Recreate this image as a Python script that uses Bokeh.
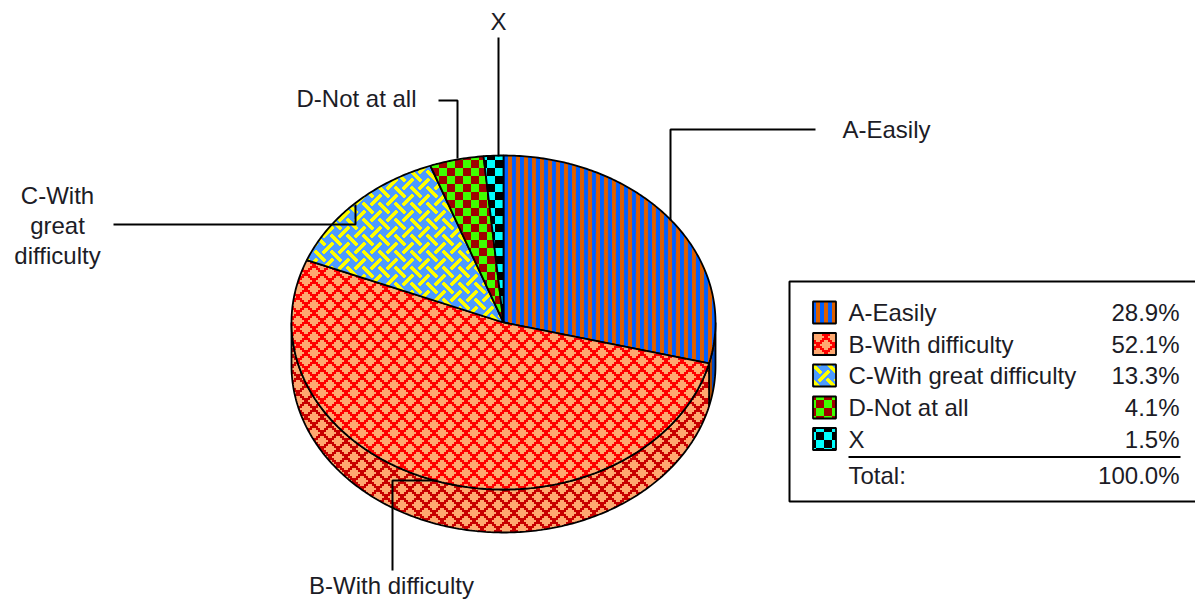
import base64, struct, zlib
import numpy as np
from bokeh.embed import file_html
from bokeh.resources import INLINE
from bokeh.plotting import figure
from bokeh.models import ImageURLTexture
from bokeh.core.properties import value

categories = ["A-Easily", "B-With difficulty", "C-With great difficulty", "D-Not at all", "X"]
percents = [28.9, 52.1, 13.3, 4.1, 1.5]
percent_labels = ["28.9%", "52.1%", "13.3%", "4.1%", "1.5%"]
total_label = "100.0%"
callout_lines = [["A-Easily"], ["B-With difficulty"], ["C-With", "great", "difficulty"], ["D-Not at all"], ["X"]]

FONT = value("Liberation Sans")
TEXT = "#1c1c26"


def png_uri(rgb):
    h, w, _ = rgb.shape
    raw = b"".join(b"\x00" + rgb[r].astype(np.uint8).tobytes() for r in range(h))

    def chunk(t, d):
        c = t + d
        return struct.pack(">I", len(d)) + c + struct.pack(">I", zlib.crc32(c) & 0xffffffff)

    data = b"\x89PNG\r\n\x1a\n" + chunk(b"IHDR", struct.pack(">IIBBBBB", w, h, 8, 2, 0, 0, 0)) \
        + chunk(b"IDAT", zlib.compress(raw)) + chunk(b"IEND", b"")
    return "data:image/png;base64," + base64.b64encode(data).decode()


def hexrgb(s):
    return [int(s[i:i + 2], 16) for i in (1, 3, 5)]


def paint(mask, on, off, shift=(0, 0)):
    mask = np.roll(mask, shift, axis=(0, 1))
    out = np.zeros(mask.shape + (3,), dtype=np.uint8)
    out[mask] = hexrgb(on)
    out[~mask] = hexrgb(off)
    return png_uri(out)


def stripes(on, off, shift=(0, 4)):
    yy, xx = np.mgrid[0:8, 0:8]
    return paint(xx % 8 < 4, on, off, shift)


def lattice(on, off, shift=(0, 0)):
    yy, xx = np.mgrid[0:8, 0:8]
    m = ((xx + yy) % 8 < 2) | ((xx - yy) % 8 < 2)
    return paint(np.kron(m, np.ones((2, 2), dtype=bool)), on, off, shift)


def weave(on, off, shift=(0, 0)):
    P, W, G = 16, 3, 3
    yy, xx = np.mgrid[0:P, 0:P]
    u, v = xx + yy + 1, xx - yy
    du, dv = (u + P // 2) % P - P // 2, (v + P // 2) % P - P // 2
    parity = ((u + P // 2) // P + (v + P // 2) // P) % 2
    back = (np.abs(dv) < W) & ~((np.abs(du) < W + G) & (parity == 1))
    fore = (np.abs(du) < W) & ~((np.abs(dv) < W + G) & (parity == 0))
    return paint(back | fore, on, off, shift)


def checker(on, off, shift=(0, 7)):
    yy, xx = np.mgrid[0:16, 0:16]
    return paint(((xx // 8 + yy // 8) % 2) == 0, on, off, shift)


tiles = [
    stripes("#DC5F00", "#0060FF"),
    lattice("#FF0000", "#FFA870"),
    weave("#FFFF00", "#4D9BFF"),
    checker("#A00000", "#40FF00"),
    checker("#00FFFF", "#000000"),
]
key_tiles = [
    stripes("#DC5F00", "#0060FF", (0, 0)),
    lattice("#FF0000", "#FFA870", (0, 8)),
    weave("#FFFF00", "#4D9BFF"),
    checker("#A00000", "#40FF00", (0, 0)),
    checker("#00FFFF", "#000000", (0, 8)),
]
wall_tiles = [
    stripes("#A84800", "#0048C0"),
    lattice("#C80000", "#FFA870"),
]
base_fill = ["#0060FF", "#FFA870", "#4D9BFF", "#40FF00", "#000000"]

p = figure(width=1195, height=600, x_range=(0, 1195), y_range=(600, 0),
           toolbar_location=None, output_backend="svg", min_border=0)
p.axis.visible = False
p.grid.visible = False
p.outline_line_color = None


def tex(glyph_name, uri):
    return dict(hatch_pattern=glyph_name, hatch_extra={glyph_name: ImageURLTexture(url=uri)})


CX, CY, RX, RY, DEPTH = 503.0, 322.0, 212.0, 167.0, 43.0
edges = np.concatenate([[0.0], np.cumsum(percents)]) / np.sum(percents) * 2 * np.pi


def arc(a0, a1, dy=0.0):
    t = np.linspace(a0, a1, max(int(abs(a1 - a0) * 80), 3))
    return CX + RX * np.sin(t), CY + dy - RY * np.cos(t)


# side wall (only what faces the viewer: from 3 o'clock round to 9 o'clock)
for i, uri in enumerate(wall_tiles):
    a0 = max(edges[i], np.pi / 2)
    a1 = min(edges[i + 1], 3 * np.pi / 2)
    if a1 <= a0:
        continue
    tx, ty = arc(a0, a1)
    bx, by = arc(a1, a0, DEPTH)
    p.patch(np.r_[tx, bx], np.r_[ty, by], fill_color=base_fill[i], line_color="black", line_width=1.8,
            **tex(f"wall{i}", uri))

# top face slices
for i, uri in enumerate(tiles):
    ax, ay = arc(edges[i], edges[i + 1])
    p.patch(np.r_[CX, ax], np.r_[CY, ay], fill_color=base_fill[i], line_color="black", line_width=1.8,
            **tex(f"top{i}", uri))

# callouts
leaders = [
    ([815, 670, 670], [129, 129, 220]),
    ([392, 392, 437], [570, 480, 480]),
    ([113, 355, 355], [224, 224, 204]),
    ([438, 457, 457], [100, 100, 158]),
    ([498, 498], [37, 156]),
]
for lx, ly in leaders:
    p.line(lx, ly, line_color="black", line_width=2)


def label(x, y, s, align="left"):
    p.text([x], [y], text=[s], text_font=FONT, text_font_size="24px", text_color=TEXT,
           text_align=align, text_baseline="middle")


label(842, 129, callout_lines[0][0])
label(391, 585, callout_lines[1][0], "center")
for s, y in zip(callout_lines[2], [195, 225, 255]):
    label(57, y, s, "center")
label(296, 98, callout_lines[3][0])
label(498, 21, callout_lines[4][0], "center")

# legend
p.line([1196, 789, 789, 1196], [281, 281, 501, 501], line_color="black", line_width=2)
rows = [312, 343.5, 375, 407, 438.5]
for i, (name, pct, y) in enumerate(zip(categories, percent_labels, rows)):
    p.patch([812.5, 835.5, 835.5, 812.5], [y - 11, y - 11, y + 11, y + 11], fill_color=base_fill[i],
            line_color="black", line_width=1.8, **tex(f"key{i}", key_tiles[i]))
    label(848, y, name)
    label(1179, y, pct, "right")
p.line([848, 1180], [456.5, 456.5], line_color="black", line_width=2)
label(848, 475, "Total:")
label(1179, 475, total_label, "right")

open("out.html", "w").write(file_html(p, INLINE))
